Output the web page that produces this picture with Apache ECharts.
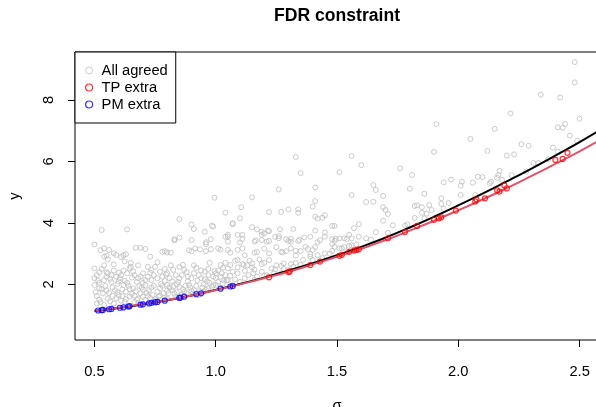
<!DOCTYPE html>
<html>
<head>
<meta charset="utf-8">
<script src="https://cdn.jsdelivr.net/npm/echarts@6/dist/echarts.min.js"></script>
<style>
  html, body { margin: 0; padding: 0; overflow: hidden; background: #fff; }
  #chart { width: 600px; height: 407px; }
</style>
</head>
<body>
<div id="chart"></div>
<script>
// Axis ticks and their labels
const xTicks = [0.5, 1.0, 1.5, 2.0, 2.5];
const xTickLabels = ['0.5', '1.0', '1.5', '2.0', '2.5'];
const yTicks = [2, 4, 6, 8];
const yTickLabels = ['2', '4', '6', '8'];

// Threshold curves sampled along sigma
const curveSigma = [0.5, 0.6, 0.7, 0.8, 0.9, 1.0, 1.1, 1.2, 1.3, 1.4, 1.5, 1.6, 1.7, 1.8, 1.9, 2.0, 2.1, 2.2, 2.3, 2.4, 2.5, 2.6];
const blackCurve = [1.13, 1.23, 1.35, 1.48, 1.64, 1.82, 2.01, 2.22, 2.45, 2.69, 2.95, 3.22, 3.52, 3.85, 4.20, 4.57, 4.95, 5.35, 5.76, 6.19, 6.63, 7.09];
const redCurve = [1.14, 1.24, 1.36, 1.49, 1.64, 1.81, 2.00, 2.20, 2.41, 2.65, 2.90, 3.16, 3.44, 3.75, 4.07, 4.41, 4.76, 5.13, 5.52, 5.92, 6.33, 6.76];

// Observations rejected by both procedures: [sigma, y]
const allAgreed = [
  [2.48,9.23],[2.48,8.57],[2.34,8.17],[2.42,8.08],[2.215,7.56],[2.50,7.39],[2.15,7.06],[2.41,7.11],[2.43,7.09],[2.44,7.22],
  [2.05,6.73],[2.46,6.84],[2.49,6.67],[2.12,6.34],[2.26,6.56],[2.29,6.51],[2.20,6.19],[2.23,6.23],[2.31,5.95],[2.33,5.95],
  [2.37,6.07],[2.41,6.32],[2.28,5.67],[2.015,5.34],[2.01,5.21],[2.06,5.31],[2.08,5.50],[2.10,5.49],[2.13,5.29],[2.135,5.34],
  [2.16,5.47],[2.165,5.56],[2.17,5.69],[2.18,5.40],[2.01,4.91],[2.07,4.91],
  [1.91,7.21],[1.90,6.31],[1.76,5.77],[1.81,5.56],[1.80,5.11],[1.94,5.32],[1.97,5.41],[1.65,5.23],[1.66,5.07],[1.69,4.88],
  [1.65,4.69],[1.86,4.95],[1.93,4.80],[1.69,4.51],[1.70,4.42],[1.71,4.29],[1.82,4.55],[1.83,4.57],[1.85,4.51],[1.85,4.33],
  [1.88,4.58],[1.89,4.42],[1.93,4.62],[1.94,4.46],[1.82,4.16],[1.69,4.07],[1.73,3.92],[1.78,3.91],[1.79,3.95],[1.66,3.70],
  [1.71,3.68],[1.86,4.15],
  [1.33,6.14],[1.56,6.18],[1.60,5.88],[1.35,5.62],[1.51,5.65],[1.41,5.15],[1.26,5.09],[1.15,4.83],[1.56,4.91],[1.41,4.71],
  [1.40,4.53],[1.62,4.68],[1.105,4.51],[1.04,4.33],[1.22,4.35],[1.27,4.36],[1.30,4.44],[1.34,4.44],[1.34,4.33],[1.10,4.15],
  [1.41,4.20],[1.42,4.14],[1.44,4.17],[1.45,4.25],[1.07,3.99],[1.15,3.86],[1.17,3.79],[1.19,3.71],[1.215,3.75],[1.22,3.73],
  [1.265,3.79],[1.32,3.80],[1.41,3.75],[1.45,3.69],[1.48,3.90],[1.49,3.90],[1.57,3.83],[1.59,3.96],
  [1.09,3.61],[1.11,3.61],[1.11,3.48],[1.10,3.36],[1.05,3.55],[1.05,3.39],[1.16,3.39],[1.165,3.43],[1.19,3.44],[1.21,3.39],
  [1.22,3.41],[1.245,3.55],[1.26,3.57],[1.26,3.50],[1.29,3.47],[1.30,3.41],[1.31,3.48],[1.31,3.39],[1.34,3.41],[1.345,3.45],
  [1.365,3.53],[1.39,3.55],[1.42,3.37],[1.43,3.44],[1.45,3.55],[1.48,3.47],[1.49,3.42],[1.495,3.48],[1.51,3.49],[1.53,3.50],
  [1.55,3.61],[1.54,3.47],[1.56,3.50],[1.59,3.55],[1.62,3.50],
  [1.05,3.12],[1.06,3.03],[1.09,3.12],[1.11,3.17],[1.12,2.95],[1.16,3.03],[1.17,3.05],[1.20,3.16],[1.22,3.01],[1.25,3.21],
  [1.27,3.06],[1.275,3.04],[1.29,3.08],[1.31,3.17],[1.33,3.09],[1.33,2.94],[1.35,3.08],[1.37,3.22],[1.38,3.15],[1.39,2.98],
  [1.40,3.12],[1.41,3.21],[1.48,3.09],[1.48,3.31],[1.49,3.22],[1.51,3.17],[1.52,3.17],[1.53,3.21],[1.55,3.25],[1.56,3.27],
  [1.08,2.77],[1.09,2.79],[1.11,2.66],[1.115,2.63],[1.14,2.77],[1.15,2.68],[1.18,2.81],[1.19,2.66],[1.20,2.70],[1.22,2.79],
  [1.23,2.52],[1.245,2.49],[1.27,2.60],[1.28,2.68],[1.31,2.66],[1.32,2.57],[1.33,2.70],[1.35,2.63],
  [1.05,2.52],[1.06,2.63],[1.07,2.41],[1.09,2.36],[1.12,2.44],[1.135,2.30],[1.155,2.36],[1.17,2.25],[1.19,2.41],[1.21,2.30],
  [1.39,2.90],[1.40,2.79],[1.42,2.95],[1.45,3.01],[1.27,2.36],[1.30,2.46],[1.05,2.14],[1.08,2.16],[1.10,2.08],
  [0.50,3.30],[0.525,3.11],[0.54,3.17],[0.555,2.81],[0.55,2.93],[0.61,2.89],[0.62,2.95],[0.67,3.19],[0.69,3.19],[0.71,3.15],
  [0.79,3.08],[0.80,3.04],[0.83,3.43],[0.90,3.44],[0.90,3.08],[0.89,3.11],[0.96,3.37],[0.96,3.08],[1.01,3.17],[1.02,3.13],
  [0.54,2.90],
  [0.50,2.52],[0.53,2.50],[0.52,2.39],[0.51,2.30],[0.555,2.36],[0.55,2.25],[0.57,2.30],[0.59,2.25],[0.605,2.20],[0.61,2.30],
  [0.635,2.36],[0.645,2.52],[0.65,2.57],[0.665,2.30],[0.68,2.20],[0.69,2.25],[0.70,2.36],[0.72,2.57],[0.735,2.47],[0.72,2.25],
  [0.75,2.57],[0.77,2.41],[0.78,2.25],[0.80,2.36],[0.81,2.20],[0.825,2.47],[0.835,2.30],[0.85,2.57],[0.87,2.47],[0.885,2.25],
  [0.91,2.36],[0.92,2.54],[0.94,2.20],[0.955,2.41],[0.97,2.30],[0.995,2.43],[1.02,2.63],[1.03,2.54],[1.04,2.30],
  [0.50,1.98],[0.52,1.87],[0.535,1.71],[0.555,1.54],[0.585,1.81],[0.60,1.65],[0.62,1.98],[0.63,1.76],[0.645,1.60],[0.66,1.87],
  [0.68,1.54],[0.69,1.71],[0.71,1.98],[0.725,1.81],[0.74,1.65],[0.755,1.49],[0.77,1.87],[0.785,1.71],[0.80,1.98],[0.82,1.81],
  [0.835,1.60],[0.85,1.92],[0.87,1.76],[0.89,1.98],[0.91,1.81],[0.93,1.65],[0.95,2.00],[0.97,1.87],[0.99,1.98],[1.01,2.08],
  [1.03,2.03],[1.045,2.14],
  [0.51,1.38],[0.54,1.33],[0.58,1.38],[0.625,1.43],[0.665,1.43],[0.71,1.49],[0.75,1.52],[0.80,1.54],
  [0.50,2.20],[0.54,2.14],[0.57,2.08],[0.625,2.11],[0.675,2.08],[0.735,2.14],[0.79,2.11],[0.845,2.08],[0.90,2.20],[0.955,2.17],
  [1.00,2.21],
  [0.53,3.77],[0.635,3.79],[0.85,4.12],[0.90,3.95],[0.91,3.80],[0.955,3.71],[0.985,3.91],[0.995,4.82],[0.83,3.47],[0.98,3.47],
  [0.56,3.12],[0.58,3.01],[0.59,2.96],[0.63,2.98],[0.65,2.70],[0.73,2.90],[0.78,3.06],[0.815,3.03],[0.85,3.52],[0.915,3.17],
  [0.935,3.14],[0.96,3.31],[0.98,3.14],[0.99,3.88],[1.04,3.55],[1.05,3.61],[1.07,3.96],[1.19,3.61],[1.20,3.66],
  [0.51,1.62],[0.52,1.50],[0.53,1.85],[0.545,1.95],[0.56,1.72],[0.565,1.45],[0.575,1.90],[0.59,1.55],[0.595,2.02],[0.61,1.47],
  [0.615,1.83],[0.63,1.52],[0.64,1.95],[0.655,1.69],[0.67,1.78],[0.675,1.50],[0.695,1.90],[0.70,1.60],[0.715,1.72],[0.73,1.56],
  [0.745,1.95],[0.76,1.76],[0.765,1.60],[0.775,2.02],[0.79,1.58],[0.805,1.72],[0.81,1.90],[0.83,1.70],[0.84,2.00],[0.86,1.66],
  [0.865,1.84],[0.88,1.72],[0.895,1.90],[0.905,1.70],[0.92,1.95],[0.935,1.78],[0.945,1.90],[0.96,1.82],[0.975,2.05],[0.985,1.92],
  [1.00,1.98],[1.02,2.25],[1.035,2.12],[0.52,2.05],[0.55,2.40],[0.58,2.45],[0.60,2.10],[0.62,2.45],[0.66,2.42],[0.70,2.05],
  [0.73,2.38],[0.76,2.20],[0.79,2.50],[0.82,2.10],[0.86,2.30],[0.88,2.40],[0.93,2.30],[0.97,2.50],[1.00,2.36],[1.12,2.20],
  [1.16,2.15],[1.20,2.28],[1.24,2.35],[1.28,2.50],[1.15,2.55],[1.25,2.62],[1.36,2.80],[1.44,2.85],[1.47,3.00],[1.58,3.30],
  [1.64,3.45],[1.87,4.30],[1.96,4.65],[2.22,5.55],[2.39,6.45],
  [0.505,1.75],[0.515,2.12],[0.525,1.42],[0.54,2.62],[0.55,1.80],[0.565,2.18],[0.575,1.62],[0.58,2.65],[0.595,1.74],[0.60,2.38],
  [0.615,1.62],[0.625,2.75],[0.635,2.05],[0.645,1.85],[0.655,2.22],[0.665,1.63],[0.68,2.62],[0.685,1.95],[0.70,1.82],[0.71,2.14],
  [0.72,1.62],[0.735,1.90],[0.745,2.30],[0.76,2.72],[0.77,1.64],[0.78,1.95],[0.795,2.32],[0.80,1.80],[0.815,2.62],[0.825,1.92],
  [0.84,1.75],[0.85,2.20],[0.865,2.64],[0.875,1.95],[0.885,2.10],[0.90,1.78],[0.91,2.62],[0.925,2.12],[0.94,2.45],[0.95,1.76],
  [0.965,2.10],[0.975,2.70],[0.99,2.25],[1.01,2.45],[1.025,2.36],[1.04,2.70],[1.06,2.28],[1.09,2.55],[1.13,2.62],[1.16,2.48]
];

// Extra rejections of the TP procedure: [sigma, y]
const tpExtra = [
  [1.22,2.23],[1.30,2.40],[1.305,2.42],[1.39,2.63],[1.43,2.74],[1.51,2.93],[1.52,2.96],[1.55,3.06],[1.57,3.10],[1.58,3.12],
  [1.59,3.14],[1.71,3.50],[1.78,3.70],[1.83,3.90],[1.90,4.10],[1.92,4.15],[1.93,4.18],[1.99,4.40],[2.07,4.70],[2.075,4.76],
  [2.11,4.80],[2.16,5.06],[2.17,5.02],[2.19,5.22],[2.20,5.12],[2.40,6.05],[2.43,6.08],[2.45,6.28]
];

// Extra rejections of the PM procedure: [sigma, y]
const pmExtra = [
  [0.515,1.15],[0.53,1.16],[0.535,1.17],[0.56,1.19],[0.57,1.20],[0.605,1.24],[0.62,1.25],[0.64,1.28],[0.645,1.29],[0.69,1.34],
  [0.70,1.35],[0.725,1.38],[0.735,1.40],[0.75,1.42],[0.76,1.43],[0.79,1.47],[0.85,1.56],[0.855,1.57],[0.87,1.60],[0.92,1.68],
  [0.94,1.71],[1.02,1.86],[1.06,1.93],[1.07,1.95]
];

const FONT = '"Liberation Sans", Arial, Helvetica, sans-serif';
const GRAY = '#BEBEBE';

const chart = echarts.init(document.getElementById('chart'), null, { renderer: 'canvas' });

const hollow = (c, w) => ({ color: 'transparent', borderColor: c, borderWidth: w });

chart.setOption({
  animation: false,
  backgroundColor: '#fff',
  textStyle: { fontFamily: FONT },
  graphic: [{
    type: 'text',
    x: 337, y: 16,
    style: {
      text: 'FDR constraint',
      fontFamily: FONT, fontSize: 17.6, fontWeight: 'bold',
      fill: '#000', textAlign: 'center', textVerticalAlign: 'middle'
    }
  }],
  grid: {
    left: 75, top: 52, width: 524, height: 288,
    outerBoundsMode: 'none', containLabel: false,
    show: true, borderColor: '#000', borderWidth: 1, backgroundColor: 'transparent'
  },
  legend: {
    orient: 'vertical', left: 75, top: 52,
    padding: [10, 8, 10, 10], itemGap: 0, itemWidth: 7, itemHeight: 7,
    borderColor: '#000', borderWidth: 1, borderRadius: 0, backgroundColor: '#fff',
    selectedMode: false,
    textStyle: { fontFamily: FONT, fontSize: 14.7, color: '#000', lineHeight: 17, padding: [0, 0, 0, 4] },
    data: [
      { name: 'All agreed', icon: 'circle', itemStyle: hollow(GRAY, 1) },
      { name: 'TP extra', icon: 'circle', itemStyle: hollow('#FF0000', 1.2) },
      { name: 'PM extra', icon: 'circle', itemStyle: hollow('#0000FF', 1.2) }
    ]
  },
  xAxis: {
    type: 'value', min: 0.42, max: 2.58,
    name: 'σ', nameLocation: 'middle', nameGap: 58,
    nameTextStyle: { fontFamily: FONT, fontSize: 14.7, color: '#000' },
    axisLine: { show: false, onZero: false },
    axisTick: { show: true, customValues: xTicks, length: 7, lineStyle: { color: '#000', width: 1 } },
    axisLabel: {
      customValues: xTicks, margin: 24, fontFamily: FONT, fontSize: 14.7, color: '#000',
      formatter: v => xTickLabels[xTicks.findIndex(t => Math.abs(t - v) < 1e-9)]
    },
    splitLine: { show: false }
  },
  yAxis: {
    type: 'value', min: 0.19, max: 9.56,
    name: 'y', nameLocation: 'middle', nameGap: 53,
    nameTextStyle: { fontFamily: FONT, fontSize: 14.7, color: '#000' },
    axisLine: { show: false, onZero: false },
    axisTick: { show: true, customValues: yTicks, length: 7, lineStyle: { color: '#000', width: 1 } },
    axisLabel: {
      customValues: yTicks, rotate: 90, margin: 19, fontFamily: FONT, fontSize: 14.7, color: '#000',
      formatter: v => yTickLabels[yTicks.findIndex(t => Math.abs(t - v) < 1e-9)]
    },
    splitLine: { show: false }
  },
  series: [
    {
      name: 'All agreed', type: 'scatter', data: allAgreed, symbol: 'circle', symbolSize: 5,
      itemStyle: hollow(GRAY, 1), silent: true, z: 2
    },
    {
      name: 'black curve', type: 'line', data: curveSigma.map((s, i) => [s, blackCurve[i]]),
      smooth: true, symbol: 'none', lineStyle: { color: '#000', width: 2 }, silent: true, z: 3
    },
    {
      name: 'red curve', type: 'line', data: curveSigma.map((s, i) => [s, redCurve[i]]),
      smooth: true, symbol: 'none', lineStyle: { color: '#DF536B', width: 2 }, silent: true, z: 4
    },
    {
      name: 'TP extra', type: 'scatter', data: tpExtra, symbol: 'circle', symbolSize: 5,
      itemStyle: hollow('#FF0000', 1.2), silent: true, z: 5
    },
    {
      name: 'PM extra', type: 'scatter', data: pmExtra, symbol: 'circle', symbolSize: 5,
      itemStyle: hollow('#0000FF', 1.2), silent: true, z: 6
    }
  ]
});
</script>
</body>
</html>
